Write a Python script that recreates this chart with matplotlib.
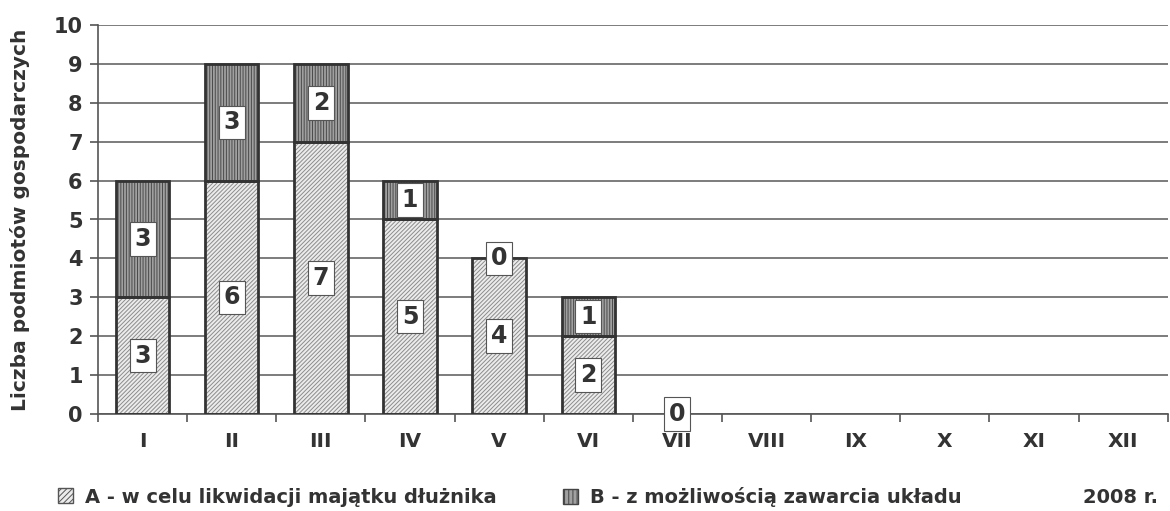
import numpy as np
import matplotlib.pyplot as plt
from matplotlib.patches import Patch

plt.rcParams['font.family'] = ['DejaVu Sans']
plt.rcParams['hatch.linewidth'] = 0.7

months = ["I", "II", "III", "IV", "V", "VI", "VII", "VIII", "IX", "X", "XI", "XII"]
a_vals = [3, 6, 7, 5, 4, 2, 0, np.nan, np.nan, np.nan, np.nan, np.nan]
b_vals = [3, 3, 2, 1, 0, 1, np.nan, np.nan, np.nan, np.nan, np.nan, np.nan]
a_name = "A - w celu likwidacji majątku dłużnika"
b_name = "B - z możliwością zawarcia układu"

txt = '#333333'
fig = plt.figure(figsize=(11.7, 5.11), dpi=100)
ax = fig.add_axes([98/1170, 1 - 414/511, 1 - 98/1170 - 0.002, (414-25)/511])

x = np.arange(len(months))
a = np.nan_to_num(np.array(a_vals, dtype=float))
b = np.nan_to_num(np.array(b_vals, dtype=float))
w = 0.6
ma = a > 0
mb = b > 0
# hatched fills, then dark outlines on top (only non-empty segments)
ax.bar(x[ma], a[ma], w, color='#ececec', edgecolor='#8c8c8c', hatch='////////', linewidth=0, zorder=2)
ax.bar(x[mb], b[mb], w, bottom=a[mb], color='#a0a0a0', edgecolor='#4a4a4a', hatch='||||||', linewidth=0, zorder=2)
ax.bar(x[ma], a[ma], w, fill=False, edgecolor='#333333', linewidth=2, zorder=3)
ax.bar(x[mb], b[mb], w, bottom=a[mb], fill=False, edgecolor='#333333', linewidth=2, zorder=3)

box = dict(boxstyle='square,pad=0.2', fc='white', ec='#555555', lw=0.8)
for i in range(len(months)):
    if not np.isnan(a_vals[i]):
        ax.text(x[i], a[i] / 2, str(int(a_vals[i])), ha='center', va='center', fontsize=17,
                fontweight='bold', color=txt, bbox=box, zorder=4)
    if not np.isnan(b_vals[i]):
        ax.text(x[i], a[i] + b[i] / 2, str(int(b_vals[i])), ha='center', va='center', fontsize=17,
                fontweight='bold', color=txt, bbox=box, zorder=4)

ax.set_xlim(-0.5, len(months) - 0.5)
ax.set_ylim(0, 10)
ax.set_yticks(range(0, 11))
ax.yaxis.grid(True, color='#666666', linewidth=1.2, zorder=0)
ax.set_axisbelow(True)
ax.set_xticks(x)
ax.set_xticklabels(months, fontsize=14.5, fontweight='bold', color=txt)
ax.set_xticks(np.arange(-0.5, len(months)), minor=True)
ax.tick_params(axis='x', which='major', length=0, pad=13)
ax.tick_params(axis='x', which='minor', length=6, color='#555555', width=1.2)
ax.tick_params(axis='y', length=6, color='#555555', width=1.2, labelsize=15, labelcolor=txt, pad=5)
for lab in ax.get_yticklabels():
    lab.set_fontweight('bold')
for s in ['top', 'right']:
    ax.spines[s].set_visible(False)
for s in ['left', 'bottom']:
    ax.spines[s].set_color('#555555')
    ax.spines[s].set_linewidth(1.2)
ax.set_ylabel("Liczba podmiotów gospodarczych", fontsize=14.5, fontweight='bold', color=txt)
ax.yaxis.set_label_coords(-68/1072, 0.5)

handles = [Patch(facecolor='#ececec', edgecolor='#555555', hatch='//////'),
           Patch(facecolor='#a0a0a0', edgecolor='#444444', hatch='||||')]
fig.legend(handles[:1], [a_name], loc='center left', bbox_to_anchor=(40/1170, 1 - 497/511),
           frameon=False, prop={'weight': 'bold', 'size': 14}, handlelength=0.8, handleheight=0.8,
           handletextpad=0.6, labelcolor=txt)
fig.legend(handles[1:], [b_name], loc='center left', bbox_to_anchor=(545/1170, 1 - 497/511),
           frameon=False, prop={'weight': 'bold', 'size': 14}, handlelength=0.8, handleheight=0.8,
           handletextpad=0.6, labelcolor=txt)
fig.text(1158/1170, 1 - 497/511, "2008 r.", ha='right', va='center', fontsize=14,
         fontweight='bold', color=txt)

fig.savefig("out.png", dpi=100)
